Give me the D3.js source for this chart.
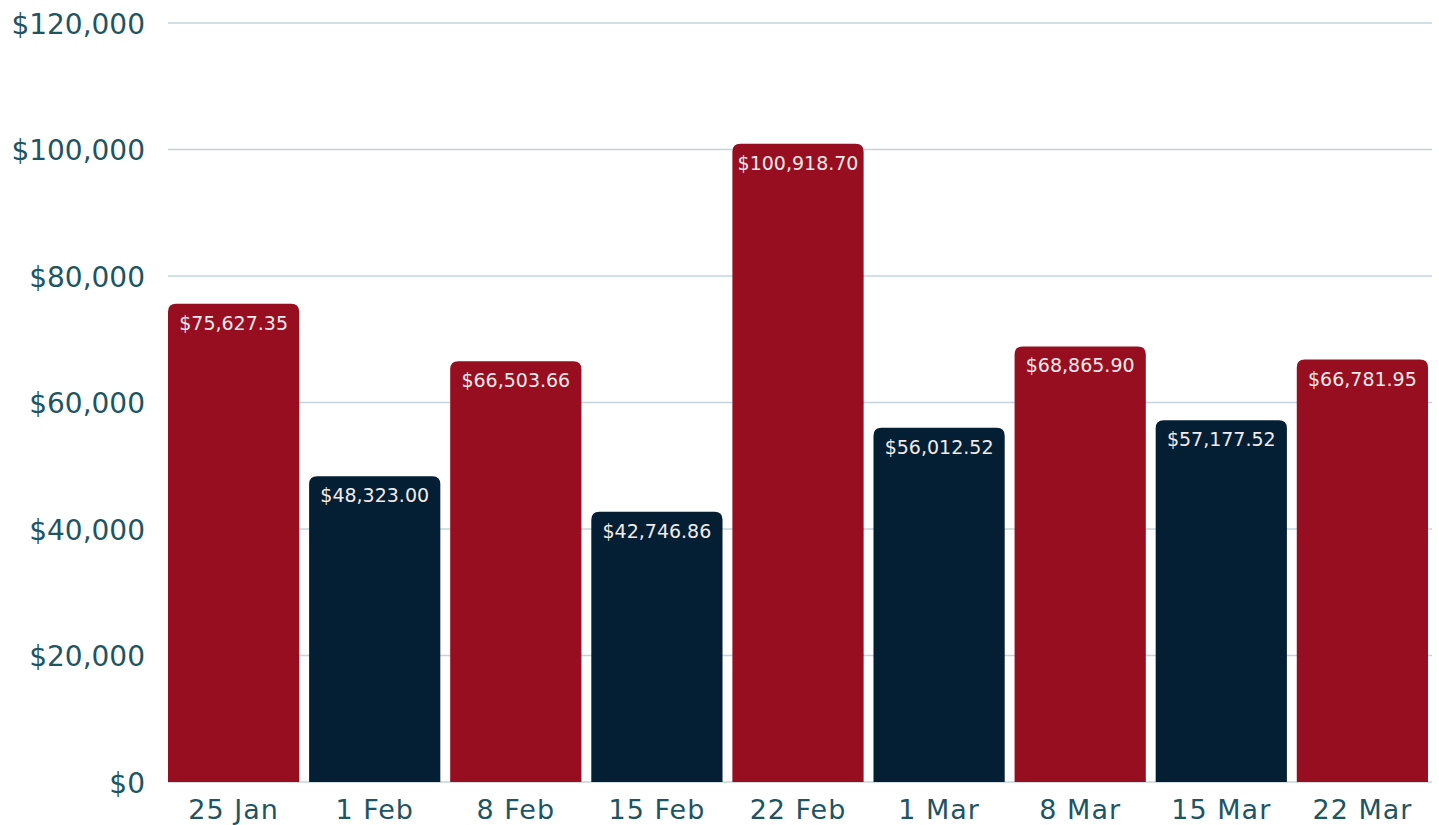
<!DOCTYPE html>
<html>
<head>
<meta charset="utf-8">
<script src="https://cdn.jsdelivr.net/npm/d3@7"></script>
<style>
  body { margin: 0; background: #fff; }
  text { font-family: "DejaVu Sans", "Noto Sans", sans-serif; }
</style>
</head>
<body>
<div id="chart"></div>
<script>
// chart data
var weeks = ["25 Jan", "1 Feb", "8 Feb", "15 Feb", "22 Feb", "1 Mar", "8 Mar", "15 Mar", "22 Mar"];
var revenue = [75627.35, 48323.00, 66503.66, 42746.86, 100918.70, 56012.52, 68865.90, 57177.52, 66781.95];
var yTicks = [0, 20000, 40000, 60000, 80000, 100000, 120000];

var svgWidth = 1439;
var svgHeight = 825;

var margin = { top: 23, right: 7, bottom: 43, left: 168 };
var width = svgWidth - margin.left - margin.right;
var height = svgHeight - margin.top - margin.bottom;

var svg = d3.select("#chart")
  .append("svg")
  .attr("width", svgWidth)
  .attr("height", svgHeight);

var chartGroup = svg.append("g")
  .attr("transform", `translate(${margin.left}, ${margin.top})`);

var data = weeks.map((w, i) => ({ week: w, value: revenue[i], idx: i }));

var xScale = d3.scaleBand()
  .domain(weeks)
  .range([0, width - 4])
  .paddingInner(0.07)
  .paddingOuter(0);

var yScale = d3.scaleLinear()
  .domain([0, 120000])
  .range([height, 0]);

// gridlines
chartGroup.append("g")
  .selectAll("line")
  .data(yTicks)
  .enter()
  .append("line")
  .attr("x1", 0)
  .attr("x2", width)
  .attr("y1", d => yScale(d))
  .attr("y2", d => yScale(d))
  .attr("stroke", "#c3d4da")
  .attr("stroke-width", 1.5);

// y axis
var leftAxis = d3.axisLeft(yScale)
  .tickValues(yTicks)
  .tickSize(0)
  .tickPadding(23)
  .tickFormat(d => "$" + d3.format(",")(d));

var yAxis = chartGroup.append("g").call(leftAxis);
yAxis.select(".domain").remove();
yAxis.selectAll("text")
  .attr("font-size", "28px")
  .attr("fill", "#1d5562")
  .attr("dy", "0.36em");

// bars with rounded tops
var r = 8;
function barPath(d) {
  var x0 = xScale(d.week), x1 = x0 + xScale.bandwidth();
  var y0 = yScale(d.value), y1 = yScale(0);
  return `M${x0},${y1} L${x0},${y0 + r} Q${x0},${y0} ${x0 + r},${y0} ` +
    `L${x1 - r},${y0} Q${x1},${y0} ${x1},${y0 + r} L${x1},${y1} Z`;
}

chartGroup.selectAll(".bar")
  .data(data)
  .enter()
  .append("path")
  .attr("class", "bar")
  .attr("d", barPath)
  .attr("fill", d => d.idx % 2 === 0 ? "#970e21" : "#041f33");

// value labels
chartGroup.selectAll(".val")
  .data(data)
  .enter()
  .append("text")
  .attr("class", "val")
  .attr("x", d => xScale(d.week) + xScale.bandwidth() / 2)
  .attr("y", d => yScale(d.value) + 26)
  .attr("text-anchor", "middle")
  .attr("font-size", "19px")
  .attr("fill", "#f3eaea")
  .text(d => "$" + d3.format(",.2f")(d.value));

// x axis
var bottomAxis = d3.axisBottom(xScale).tickSize(0).tickPadding(18);
var xAxis = chartGroup.append("g")
  .attr("transform", `translate(0, ${height})`)
  .call(bottomAxis);
xAxis.select(".domain").remove();
xAxis.selectAll("text")
  .attr("font-size", "27px")
  .attr("letter-spacing", "1px")
  .attr("fill", "#1d5562");
</script>
</body>
</html>
